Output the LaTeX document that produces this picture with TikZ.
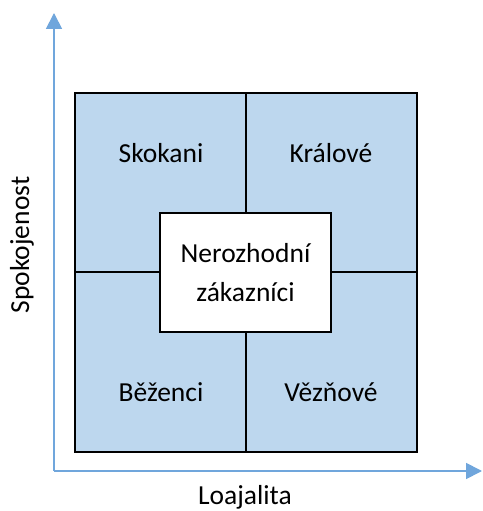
\documentclass[tikz,border=0pt]{standalone}
\usepackage{fontspec}
\setmainfont{Carlito}
\usetikzlibrary{arrows.meta}
\definecolor{osa}{RGB}{112,166,220}
\definecolor{pole}{RGB}{189,215,238}
\begin{document}
\begin{tikzpicture}[x=1pt, y=1pt, every node/.style={font=\fontsize{27.5}{39}\selectfont},
    quad/.style={draw, line width=2pt, fill=pole, minimum width=171pt, minimum height=180pt, inner sep=0pt},
    axis/.style={osa, line width=1.8pt, -{Triangle[length=16pt, width=16pt]}}]
                \useasboundingbox (0,0) rectangle (482,511);
                \coordinate (o) at (54,40);
                \coordinate (ytop) at (54,498);
                \coordinate (xend) at (482,40);
                \draw[axis] (o) -- (ytop);
                \draw[axis] (o) -- (xend);
                \node[rotate=90] (spok) at (22,266) {Spokojenost};
                \node (loaj) at (245,14) {Loajalita};
                
                % kvadranty
                \node[quad] (sk) at (160.5,328) {};
                \node[quad] (kr) at (331.5,328) {};
                \node[quad] (be) at (160.5,148.5) {};
                \node[quad] (ve) at (331.5,148.5) {};
                
                \node (tsk) at (161,358) {Skokani};
                \node (tkr) at (331,358) {Králové};
                \node (tbe) at (161,119) {Běženci};
                \node (tve) at (331,119) {Vězňové};
                
                \node[draw, line width=2pt, fill=white, minimum width=171pt, minimum height=119pt, align=center] (ne) at (245.5,238.5) {Nerozhodní\\zákazníci};
            \end{tikzpicture}
\end{document}
